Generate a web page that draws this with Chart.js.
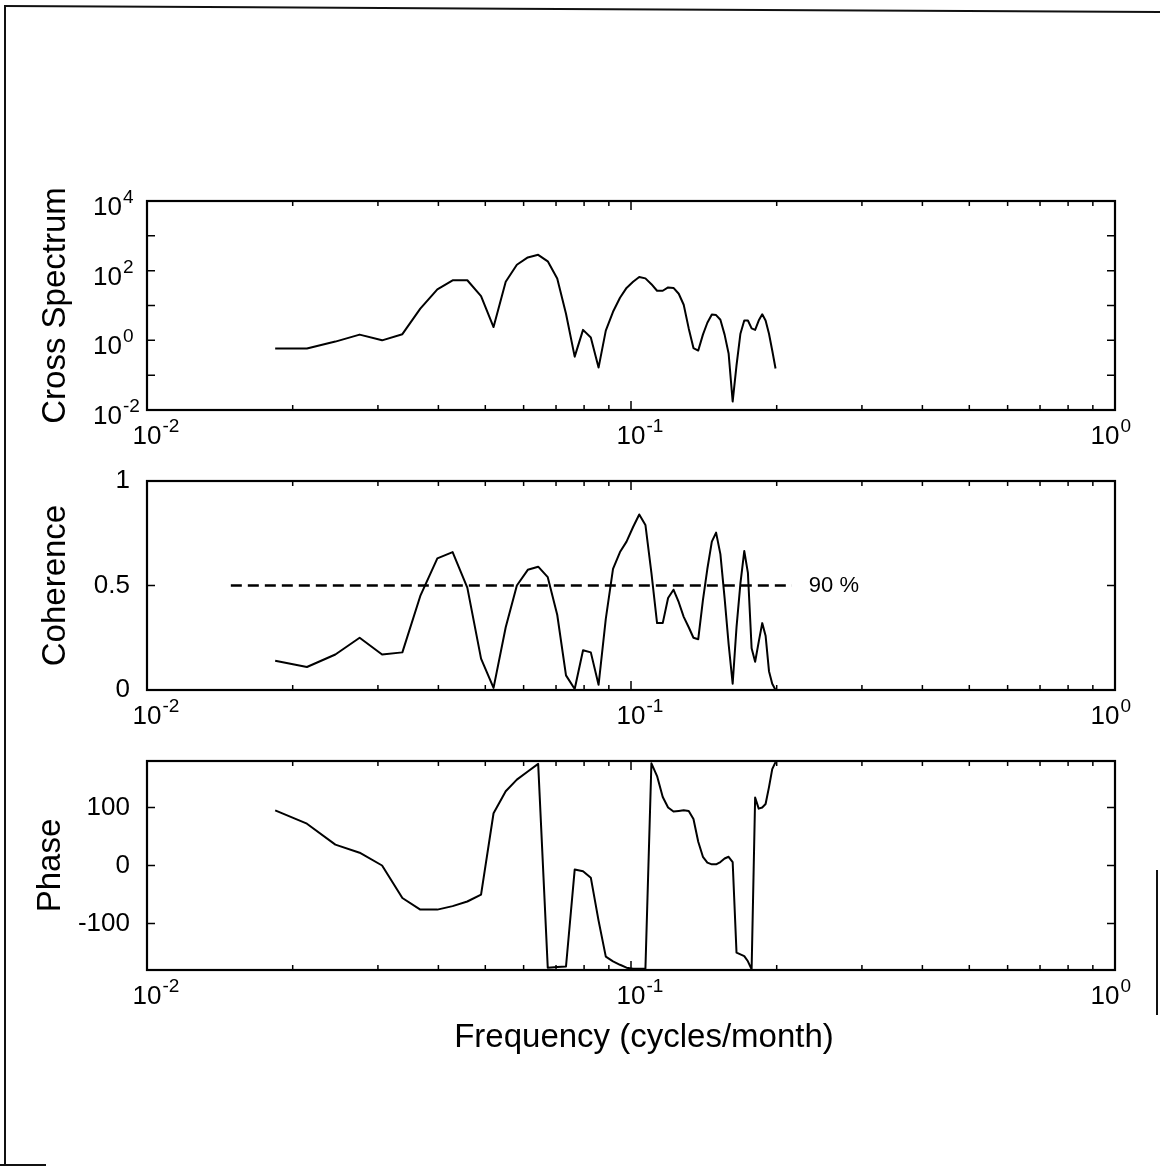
<!DOCTYPE html>
<html>
<head>
<meta charset="utf-8">
<script src="https://cdn.jsdelivr.net/npm/chart.js@4.4.1/dist/chart.umd.min.js"></script>
<style>
  html, body { margin: 0; padding: 0; background: #fff; }
  body { width: 1160px; height: 1172px; position: relative; overflow: hidden; }
  canvas { position: absolute; left: 0; }
  .edge { position: absolute; background: #111; }
</style>
</head>
<body>
<div class="edge" style="left:4px; top:5px; width:2px; height:1160px;"></div>
<div class="edge" style="left:4px; top:5px; width:1158px; height:2px; transform-origin:0 0; transform:rotate(0.3deg);"></div>
<div class="edge" style="left:1156px; top:870px; width:2px; height:145px;"></div>
<div class="edge" style="left:0px; top:1164px; width:46px; height:2px;"></div>

<canvas id="spectrumChart" width="1160" height="290" style="top:170px"></canvas>
<canvas id="coherenceChart" width="1160" height="280" style="top:460px"></canvas>
<canvas id="phaseChart" width="1160" height="340" style="top:740px"></canvas>

<script>
// frequency grid (cycles/month)
var frequency = [
  0.0184, 0.0214, 0.0245, 0.0275, 0.0306, 0.0337, 0.0367, 0.0398, 0.0428, 0.0459,
  0.0490, 0.0520, 0.0551, 0.0581, 0.0612, 0.0643, 0.0673, 0.0704, 0.0734, 0.0765,
  0.0796, 0.0826, 0.0857, 0.0887, 0.0918, 0.0949, 0.0979, 0.1010, 0.1040, 0.1071,
  0.1102, 0.1132, 0.1163, 0.1193, 0.1224, 0.1255, 0.1285, 0.1316, 0.1346, 0.1377,
  0.1408, 0.1438, 0.1469, 0.1499, 0.1530, 0.1561, 0.1591, 0.1622, 0.1652, 0.1683,
  0.1714, 0.1744, 0.1775, 0.1805, 0.1836, 0.1867, 0.1897, 0.1928, 0.1958, 0.1989
];

var crossSpectrum = [
  0.58, 0.58, 0.92, 1.46, 1.0, 1.5, 8.1, 29, 53, 53,
  18.5, 2.4, 48, 148, 240, 285, 185, 60, 5.8, 0.34,
  2.0, 1.2, 0.165, 1.9, 6.6, 16.7, 32, 48, 66, 60,
  41, 26.5, 26.5, 33, 32, 21.7, 10.5, 2.2, 0.6, 0.51,
  1.46, 3.2, 5.5, 5.3, 3.9, 1.46, 0.42, 0.0175, 0.19, 1.55,
  3.7, 3.7, 2.2, 2.0, 3.7, 5.6, 3.7, 1.55, 0.51, 0.155
];

var coherence = [
  0.14, 0.11, 0.17, 0.25, 0.17, 0.18, 0.45, 0.63, 0.66, 0.49,
  0.15, 0.01, 0.30, 0.50, 0.575, 0.59, 0.54, 0.36, 0.07, 0.005,
  0.19, 0.18, 0.025, 0.34, 0.58, 0.66, 0.71, 0.78, 0.84, 0.79,
  0.56, 0.32, 0.32, 0.44, 0.48, 0.42, 0.35, 0.30, 0.25, 0.243,
  0.43, 0.58, 0.71, 0.753, 0.65, 0.44, 0.22, 0.03, 0.30, 0.51,
  0.665, 0.56, 0.2, 0.135, 0.23, 0.32, 0.26, 0.09, 0.03, 0.0
];

var phase = [
  95, 72, 36, 22, 0, -56, -76, -76, -70, -62,
  -50, 90, 128, 148, 162, 175, -176, -175, -174, -7,
  -10, -21, -95, -157, -165, -171, -176, -178, -178, -178,
  176, 154, 118, 100, 93, 94, 95, 94, 80, 41,
  15, 5, 2, 2, 6, 12, 15, 6, -150, -153,
  -156, -165, -179, 117, 98, 100, 106, 135, 166, 178
];

// 90 % confidence level for coherence
var confidenceFreq = [0.0149, 0.215];
var confidenceLevel = [0.5, 0.5];
var confidenceLabel = '90 %';
var confidenceLabelFreq = 0.233;

var xMajorTicks = [0.01, 0.1, 1];
var xMinorTicks = [0.02, 0.03, 0.04, 0.05, 0.06, 0.07, 0.08, 0.09,
                   0.2, 0.3, 0.4, 0.5, 0.6, 0.7, 0.8, 0.9];
var spectrumTicks = [0.01, 0.1, 1, 10, 100, 1000, 10000];
var spectrumLabelTicks = [0.01, 1, 100, 10000];
var coherenceTicks = [0, 0.5, 1];
var phaseTicks = [-100, 0, 100];

var FONT = '"Liberation Sans", Arial, Helvetica, sans-serif';
Chart.defaults.font.family = FONT;
Chart.defaults.color = '#000';

function toPoints(xs, ys) {
  return xs.map(function(x, i) { return {x: x, y: ys[i]}; });
}

function drawPower(ctx, x, baseY, exp, align, maxRight) {
  var base = '10';
  var sup = exp < 0 ? '-' + (-exp) : String(exp);
  ctx.font = '26px ' + FONT;
  var bw = ctx.measureText(base).width;
  ctx.font = '19px ' + FONT;
  var sw = ctx.measureText(sup).width;
  var left = align === 'center' ? x - bw / 2 : x - bw;
  if (maxRight && left + bw + 1 + sw > maxRight) left = maxRight - bw - 1 - sw;
  ctx.textAlign = 'left';
  ctx.textBaseline = 'alphabetic';
  ctx.font = '26px ' + FONT;
  ctx.fillText(base, left, baseY);
  ctx.font = '19px ' + FONT;
  ctx.fillText(sup, left + bw + 1, baseY - 12);
}

// box, inward ticks and power-of-ten labels, MATLAB style
var framePlugin = {
  id: 'frame',
  afterDraw: function(chart, args, opts) {
    var ctx = chart.ctx, a = chart.chartArea;
    var xs = chart.scales.x, ys = chart.scales.y;
    ctx.save();
    ctx.strokeStyle = '#000';
    ctx.fillStyle = '#000';
    ctx.lineWidth = 1.5;
    ctx.beginPath();
    xMajorTicks.forEach(function(v) {
      var p = xs.getPixelForValue(v);
      ctx.moveTo(p, a.bottom); ctx.lineTo(p, a.bottom - 9);
      ctx.moveTo(p, a.top); ctx.lineTo(p, a.top + 9);
    });
    xMinorTicks.forEach(function(v) {
      var p = xs.getPixelForValue(v);
      ctx.moveTo(p, a.bottom); ctx.lineTo(p, a.bottom - 5);
      ctx.moveTo(p, a.top); ctx.lineTo(p, a.top + 5);
    });
    opts.yTicks.forEach(function(v) {
      var p = ys.getPixelForValue(v);
      ctx.moveTo(a.left, p); ctx.lineTo(a.left + 8, p);
      ctx.moveTo(a.right, p); ctx.lineTo(a.right - 8, p);
    });
    ctx.stroke();
    ctx.lineWidth = 2.2;
    ctx.strokeRect(a.left, a.top, a.right - a.left, a.bottom - a.top);

    xMajorTicks.forEach(function(v) {
      drawPower(ctx, xs.getPixelForValue(v), a.bottom + 34, Math.round(Math.log10(v)), 'center', a.right + 16);
    });
    if (opts.yPowerTicks) {
      opts.yPowerTicks.forEach(function(v) {
        drawPower(ctx, a.left - 25, ys.getPixelForValue(v) + 14, Math.round(Math.log10(v)), 'right');
      });
    }
    if (opts.note) {
      ctx.font = '22px ' + FONT;
      ctx.textAlign = 'left';
      ctx.textBaseline = 'middle';
      ctx.fillText(opts.note.text, xs.getPixelForValue(opts.note.x), ys.getPixelForValue(opts.note.y));
    }
    if (opts.xTitle) {
      ctx.font = '33px ' + FONT;
      ctx.textAlign = 'center';
      ctx.textBaseline = 'alphabetic';
      ctx.fillText(opts.xTitle, (a.left + a.right) / 2 + 13, a.bottom + 77);
    }
    ctx.restore();
  }
};

function fitY(s) {
  s.width = 147;
  s.paddingTop = 0; s.paddingBottom = 0; s.paddingLeft = 0; s.paddingRight = 0;
}
function fitX(h) {
  return function(s) {
    s.height = h;
    s.paddingTop = 0; s.paddingBottom = 0; s.paddingLeft = 0; s.paddingRight = 0;
  };
}

function lineSet(points, extra) {
  var ds = {
    data: points,
    borderColor: '#000',
    borderWidth: 2,
    borderJoinStyle: 'round',
    pointRadius: 0,
    fill: false,
    tension: 0
  };
  for (var k in extra) ds[k] = extra[k];
  return ds;
}

function xScale(h) {
  return {
    type: 'logarithmic', min: 0.01, max: 1,
    grid: {display: false}, border: {display: false},
    ticks: {display: false},
    afterFit: fitX(h)
  };
}

function yTitle(text, pad) {
  return {display: true, text: text, color: '#000', font: {size: 33, lineHeight: 1}, padding: {top: pad, bottom: 0}};
}

function makeChart(id, padTop, xHeight, datasets, yScale, frameOpts) {
  return new Chart(document.getElementById(id), {
    type: 'line',
    data: {datasets: datasets},
    options: {
      responsive: false,
      animation: false,
      events: [],
      layout: {padding: {top: padTop, right: 45, bottom: 0, left: 0}},
      plugins: {legend: {display: false}, tooltip: {enabled: false}, frame: frameOpts},
      scales: {x: xScale(xHeight), y: yScale}
    },
    plugins: [framePlugin]
  });
}

makeChart('spectrumChart', 31, 50,
  [lineSet(toPoints(frequency, crossSpectrum))],
  {
    type: 'logarithmic', min: 0.01, max: 10000,
    grid: {display: false}, border: {display: false},
    ticks: {display: false},
    title: yTitle('Cross Spectrum', 39),
    afterFit: fitY
  },
  {yTicks: spectrumTicks, yPowerTicks: spectrumLabelTicks}
);

makeChart('coherenceChart', 21, 50,
  [
    lineSet(toPoints(frequency, coherence)),
    lineSet(toPoints(confidenceFreq, confidenceLevel), {borderDash: [11, 6], borderWidth: 2.5})
  ],
  {
    type: 'linear', min: 0, max: 1,
    grid: {display: false, drawTicks: false}, border: {display: false},
    afterBuildTicks: function(s) { s.ticks = coherenceTicks.map(function(v) { return {value: v}; }); },
    ticks: {padding: 17, font: {size: 26}, color: '#000', callback: function(v) { return String(v); }},
    title: yTitle('Coherence', 39),
    afterFit: fitY
  },
  {yTicks: coherenceTicks, note: {text: confidenceLabel, x: confidenceLabelFreq, y: confidenceLevel[0]}}
);

makeChart('phaseChart', 21, 110,
  [lineSet(toPoints(frequency, phase))],
  {
    type: 'linear', min: -180, max: 180,
    grid: {display: false, drawTicks: false}, border: {display: false},
    afterBuildTicks: function(s) { s.ticks = phaseTicks.map(function(v) { return {value: v}; }); },
    ticks: {padding: 17, font: {size: 26}, color: '#000', callback: function(v) { return String(v); }},
    title: yTitle('Phase', 34),
    afterFit: fitY
  },
  {yTicks: phaseTicks, xTitle: 'Frequency (cycles/month)'}
);
</script>
</body>
</html>
